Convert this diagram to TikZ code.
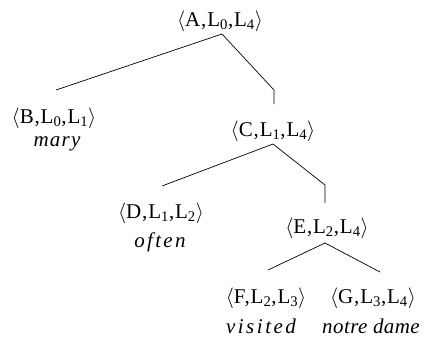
\documentclass[tikz,border=0pt]{standalone}
\usepackage{fontspec}
\setmainfont{Liberation Serif}
\newfontfamily\labfont[LetterSpace=4]{Liberation Serif}
\begin{document}
\begin{tikzpicture}[x=1pt,y=-1pt,
  lab/.style={anchor=base,inner sep=0pt,font=\fontsize{21}{24}\labfont},
  wrd/.style={anchor=base,inner sep=0pt,font=\fontsize{21}{24}\selectfont\itshape},
  edge/.style={line width=0.7pt,line join=miter}]
\useasboundingbox (0,0) rectangle (435,343);
\newcommand{\trip}[3]{$\langle$#1,L\textsubscript{#2},L\textsubscript{#3}$\rangle$}
\node[lab] (A) at (220,26) {\trip{A}{0}{4}};
\node[lab] (B) at (54,123) {\trip{B}{0}{1}};
\node[wrd] (Bw) at (57,146) {\addfontfeatures{LetterSpace=6}mary};
\node[lab] (C) at (273,136) {\trip{C}{1}{4}};
\node[lab] (D) at (161,218) {\trip{D}{1}{2}};
\node[wrd] (Dw) at (160,247) {\addfontfeatures{LetterSpace=11}often};
\node[lab] (E) at (327,233) {\trip{E}{2}{4}};
\node[lab] (F) at (266,303) {\trip{F}{2}{3}};
\node[wrd] (Fw) at (261,333) {\addfontfeatures{LetterSpace=12}visited};
\node[lab] (G) at (373,303) {\trip{G}{3}{4}};
\node[wrd] (Gw) at (371,333) {\addfontfeatures{LetterSpace=2}notre dame};
\coordinate (Aa) at (222,34);
\coordinate (Bt) at (56,90);
\coordinate (Ck) at (274,90);
\coordinate (Ct) at (274,104);
\coordinate (Ca) at (273,144);
\coordinate (Dt) at (162,186);
\coordinate (Ek) at (325,185);
\coordinate (Et) at (325,203);
\coordinate (Ea) at (325,243);
\coordinate (Ft) at (268,270);
\coordinate (Gt) at (380,272);
\draw[edge] (Aa) -- (Bt);
\draw[edge] (Aa) -- (Ck) -- (Ct);
\draw[edge] (Ca) -- (Dt);
\draw[edge] (Ca) -- (Ek) -- (Et);
\draw[edge] (Ea) -- (Ft);
\draw[edge] (Ea) -- (Gt);
\end{tikzpicture}
\end{document}
